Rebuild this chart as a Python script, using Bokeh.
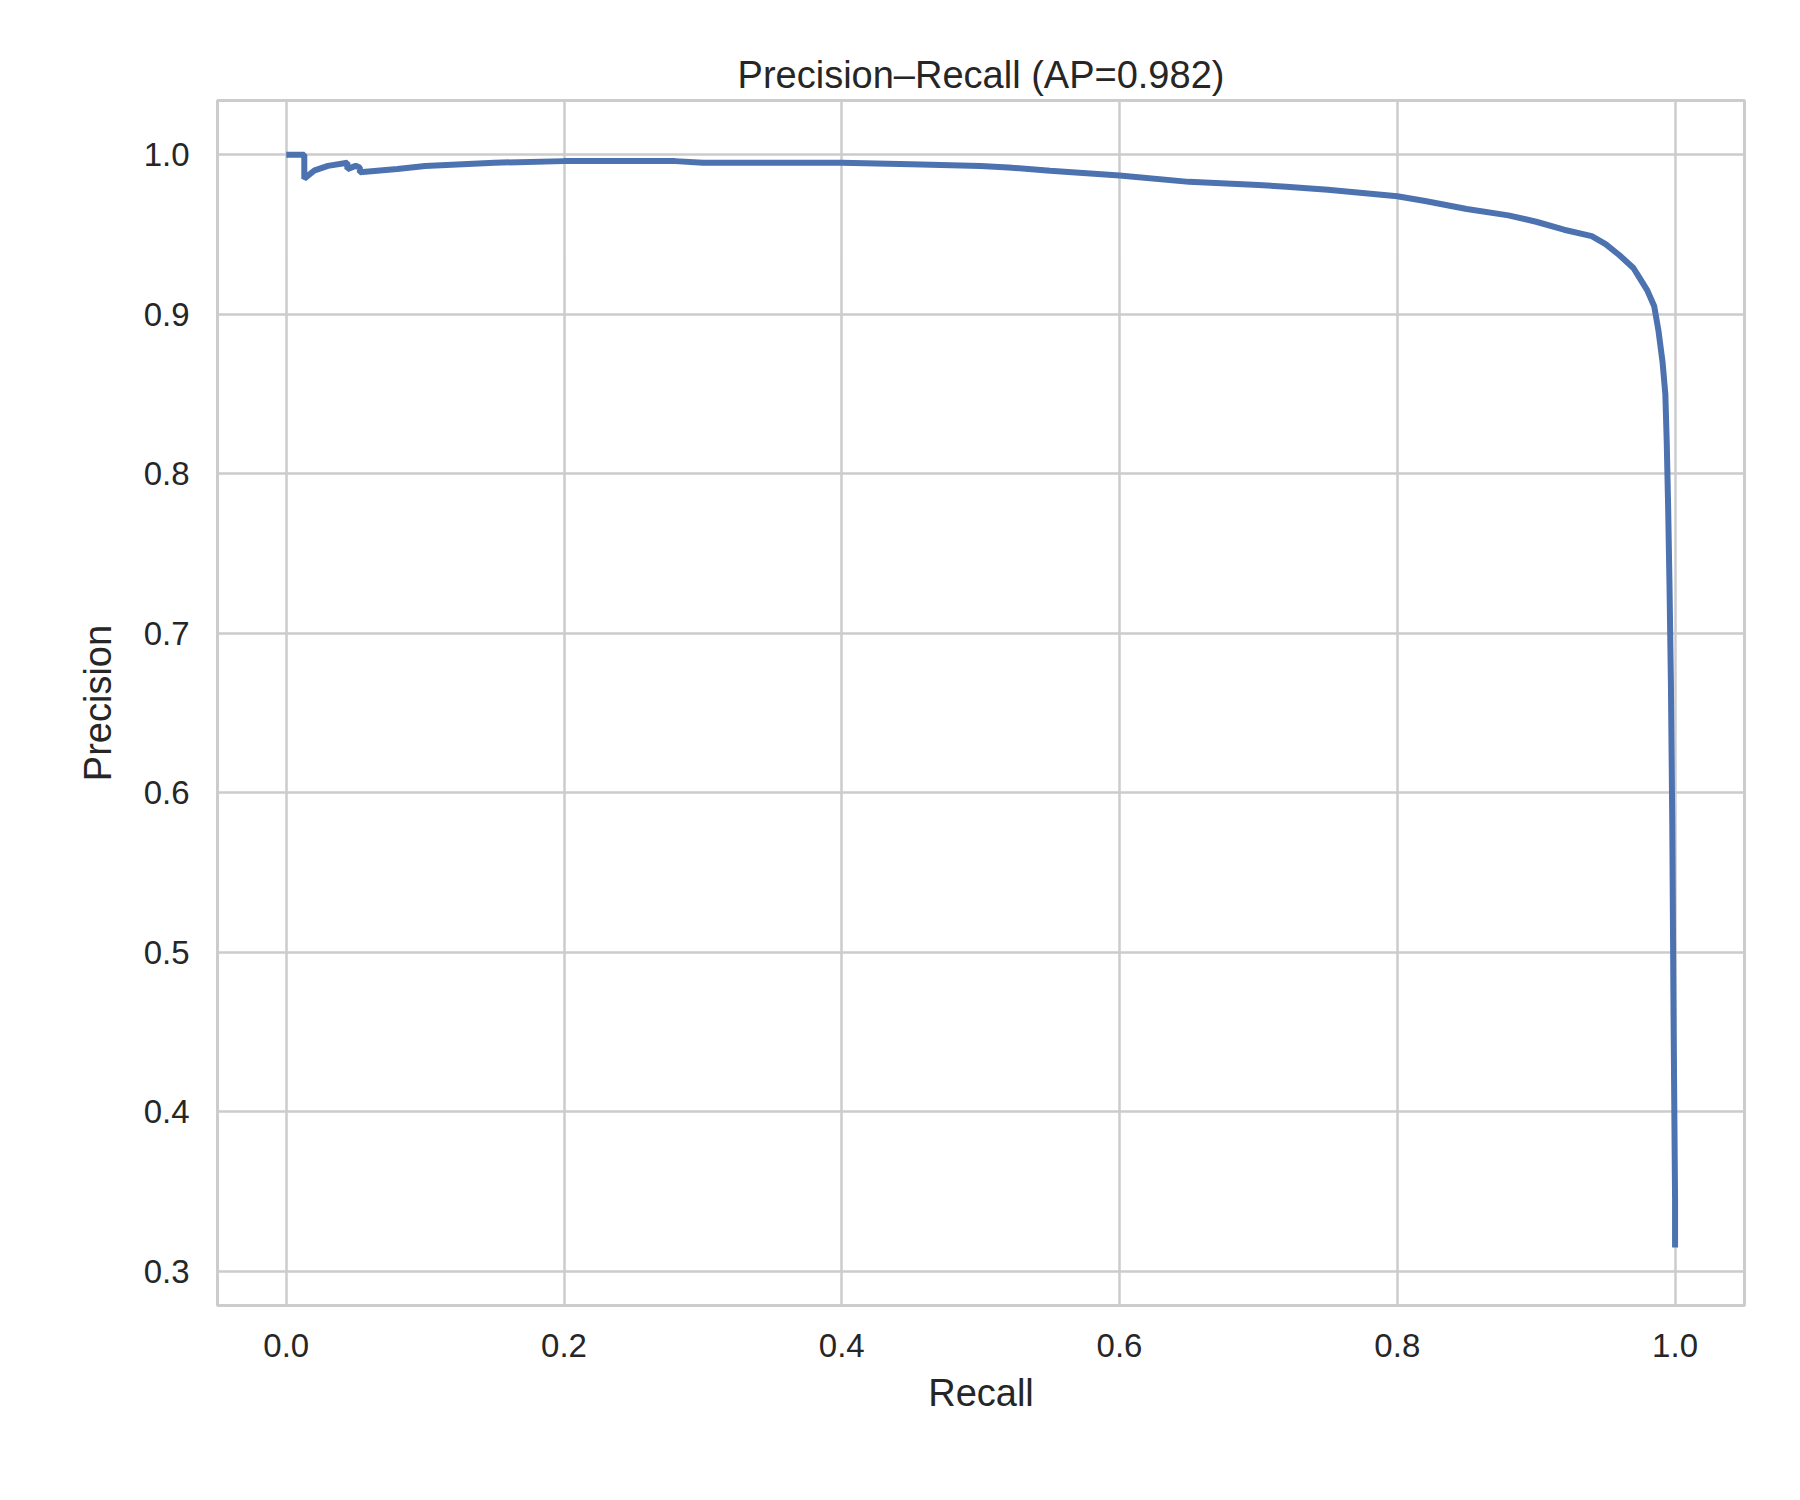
from bokeh.embed import file_html
from bokeh.models import Range1d, FixedTicker, PrintfTickFormatter
from bokeh.plotting import figure
from bokeh.resources import INLINE

# Precision-recall curve
recall = [0.0, 0.013, 0.013, 0.02, 0.03, 0.044, 0.044, 0.05, 0.053, 0.053, 0.08, 0.1,
          0.15, 0.2, 0.25, 0.28, 0.3, 0.35, 0.4, 0.45, 0.5, 0.52, 0.55, 0.6, 0.65,
          0.7, 0.72, 0.75, 0.8, 0.82, 0.85, 0.88, 0.9, 0.92, 0.94, 0.95, 0.96, 0.97,
          0.975, 0.98, 0.985, 0.988, 0.991, 0.993, 0.994, 0.995, 0.996, 0.997, 0.998,
          0.999, 1.0, 1.0]
precision = [1.0, 1.0, 0.985, 0.99, 0.993, 0.995, 0.991, 0.993, 0.992, 0.989, 0.991, 0.993,
             0.995, 0.996, 0.996, 0.996, 0.995, 0.995, 0.995, 0.994, 0.993, 0.992, 0.990,
             0.987, 0.983, 0.981, 0.980, 0.978, 0.974, 0.971, 0.966, 0.962, 0.958, 0.953,
             0.949, 0.944, 0.937, 0.929, 0.922, 0.915, 0.905, 0.89, 0.87, 0.85, 0.82,
             0.78, 0.73, 0.67, 0.58, 0.45, 0.345, 0.315]

TITLE = "Precision\u2013Recall (AP=0.982)"
TEXT = "#262626"
GRID = "#cccccc"

p = figure(
    width=1780, height=1480, output_backend="svg", toolbar_location=None,
    title=TITLE, x_axis_label="Recall", y_axis_label="Precision",
    x_range=Range1d(-0.0495, 1.05), y_range=Range1d(0.2787, 1.034),
    min_border_left=217, min_border_right=36, min_border_top=100, min_border_bottom=175,
)
p.line(recall, precision, line_color="#4c72b0", line_width=6)

p.title.align = "center"
p.title.text_font = "Liberation Sans"
p.title.text_font_size = "38px"
p.title.text_font_style = "normal"
p.title.text_color = TEXT

p.outline_line_color = GRID
p.outline_line_width = 3
for ax in (p.xaxis, p.yaxis):
    ax.axis_line_color = None
    ax.major_tick_line_color = None
    ax.minor_tick_line_color = None
    ax.major_label_text_font = "Liberation Sans"
    ax.major_label_text_font_size = "33px"
    ax.major_label_text_color = TEXT
    ax.axis_label_text_font = "Liberation Sans"
    ax.axis_label_text_font_size = "38px"
    ax.axis_label_text_font_style = "normal"
    ax.axis_label_text_color = TEXT
    ax.major_label_standoff = 22
    ax.formatter = PrintfTickFormatter(format="%.1f")
p.yaxis.axis_label_standoff = 22
p.xaxis.axis_label_standoff = 12
p.xaxis.ticker = FixedTicker(ticks=[0.0, 0.2, 0.4, 0.6, 0.8, 1.0])
p.yaxis.ticker = FixedTicker(ticks=[0.3, 0.4, 0.5, 0.6, 0.7, 0.8, 0.9, 1.0])
p.grid.grid_line_color = GRID
p.grid.grid_line_width = 2.5

open("out.html", "w").write(file_html(p, INLINE))
